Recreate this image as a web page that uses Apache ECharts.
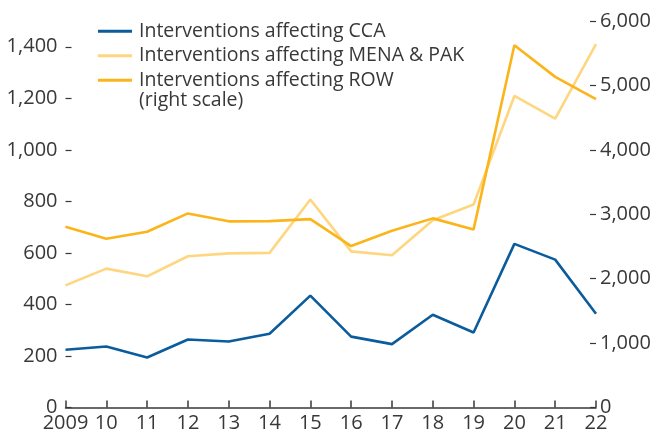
<!DOCTYPE html>
<html>
<head>
<meta charset="utf-8">
<script src="https://cdn.jsdelivr.net/npm/echarts@6/dist/echarts.min.js"></script>
<style>
  html, body { margin: 0; padding: 0; background: #fff; }
  #chart { width: 655px; height: 434px; }
</style>
</head>
<body>
<div id="chart"></div>
<script>
// Years on the category axis
const years = ['2009', '10', '11', '12', '13', '14', '15', '16', '17', '18', '19', '20', '21', '22'];

// Number of interventions per year
const cca = [224, 237, 194, 264, 256, 286, 434, 275, 246, 360, 291, 635, 574, 364];
const menaPak = [474, 539, 509, 587, 598, 600, 807, 606, 591, 727, 788, 1209, 1121, 1410];
const row = [2805, 2619, 2728, 3013, 2890, 2894, 2925, 2506, 2743, 2936, 2765, 5625, 5133, 4787];

// Tick values of the left axis
const leftTicks = [0, 200, 400, 600, 800, 1000, 1200, 1400];

const seriesNames = [
  'Interventions affecting CCA',
  'Interventions affecting MENA & PAK',
  'Interventions affecting ROW'
];
const colors = ['#0b5c9c', '#ffd680', '#fbb419'];
const font = '"Open Sans", Lato, sans-serif';
const ink = '#383838';

const fmt = v => Number(v).toLocaleString('en-US');

const chart = echarts.init(document.getElementById('chart'), null, { renderer: 'canvas' });

chart.setOption({
  animation: false,
  textStyle: { fontFamily: font },
  color: colors,
  grid: { left: 65.5, right: 59, top: 21, bottom: 26.5, containLabel: false },
  legend: {
    orient: 'vertical',
    left: 98,
    top: 19,
    padding: 0,
    icon: 'rect',
    itemWidth: 34,
    itemHeight: 3,
    itemGap: 0,
    textStyle: { fontFamily: font, fontSize: 19.5, color: ink, padding: [0, 0, 0, 2], lineHeight: 24.5 },
    data: seriesNames
  },
  graphic: [{
    type: 'text',
    left: 139,
    top: 90,
    style: { text: '(right scale)', font: '19.5px ' + font, fill: ink }
  }],
  xAxis: {
    type: 'category',
    data: years,
    boundaryGap: false,
    axisLine: { show: true, lineStyle: { color: ink, width: 1.5 } },
    axisTick: { show: true, inside: true, length: 7, alignWithLabel: true, lineStyle: { color: ink, width: 1.5 } },
    axisLabel: { color: ink, fontSize: 20, margin: 6, fontFamily: font, interval: 0 },
    splitLine: { show: false }
  },
  yAxis: [{
    type: 'value',
    min: 0,
    max: 1500,
    interval: 100,
    position: 'left',
    axisLine: { show: false },
    axisTick: { show: true, inside: true, length: 6, customValues: leftTicks, lineStyle: { color: ink, width: 1.2 } },
    axisLabel: { color: ink, fontSize: 20, margin: 8, fontFamily: font, customValues: leftTicks, formatter: fmt },
    splitLine: { show: false }
  }, {
    type: 'value',
    min: 0,
    max: 6000,
    interval: 1000,
    position: 'right',
    axisLine: { show: false },
    axisTick: { show: true, inside: true, length: 6, lineStyle: { color: ink, width: 1.2 } },
    axisLabel: { color: ink, fontSize: 20, margin: 4, fontFamily: font, formatter: fmt },
    splitLine: { show: false }
  }],
  series: [{
    name: seriesNames[0],
    type: 'line',
    yAxisIndex: 0,
    data: cca,
    symbol: 'none',
    lineStyle: { width: 2.6, color: colors[0] },
    z: 3
  }, {
    name: seriesNames[1],
    type: 'line',
    yAxisIndex: 0,
    data: menaPak,
    symbol: 'none',
    lineStyle: { width: 2.6, color: colors[1] },
    z: 2
  }, {
    name: seriesNames[2],
    type: 'line',
    yAxisIndex: 1,
    data: row,
    symbol: 'none',
    lineStyle: { width: 2.6, color: colors[2] },
    z: 4
  }]
});
</script>
</body>
</html>
